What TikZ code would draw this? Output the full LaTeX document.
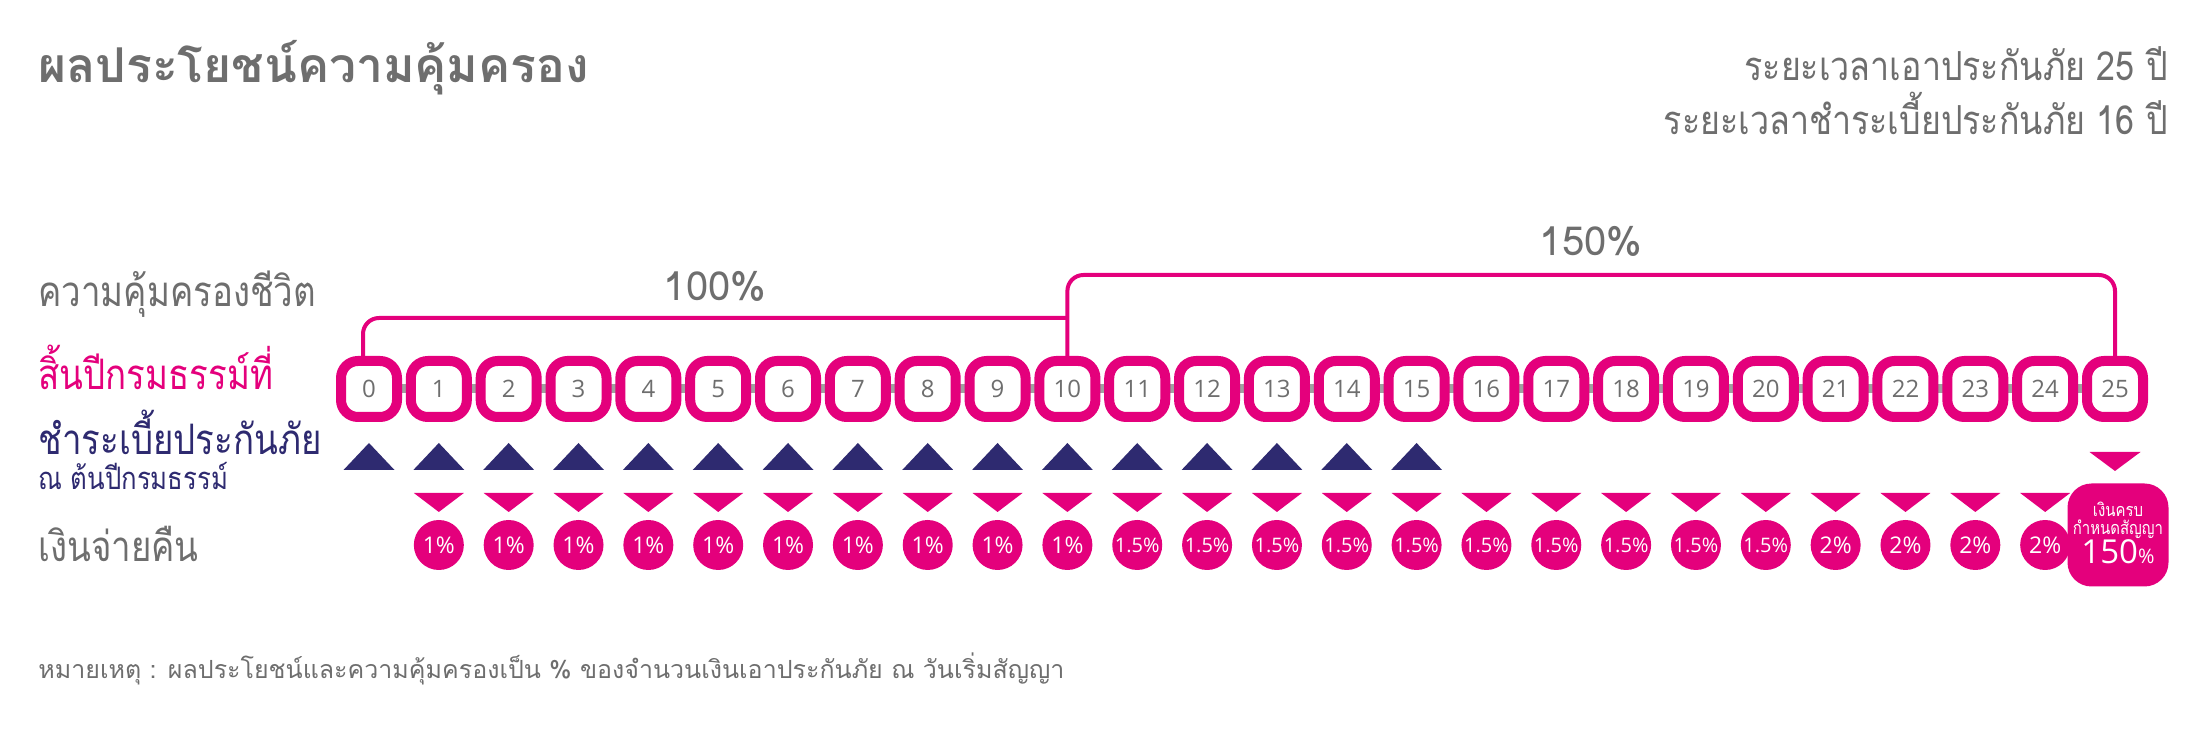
\documentclass[tikz,border=0pt]{standalone}
\usepackage{fontspec}
\setmainfont{Open Sans}
\newfontfamily\thaifont[Script=Thai]{Loma}
\newfontfamily\thainarrow[Script=Thai,FakeStretch=0.83]{Loma}
\newfontfamily\thaihead[Script=Thai,FakeStretch=0.85]{Loma}
\newfontfamily\numfont{Open Sans}
\definecolor{kmagenta}{RGB}{228,0,124}
\definecolor{knavy}{RGB}{46,42,112}
\definecolor{kgrey}{RGB}{110,110,110}
\definecolor{kbar}{RGB}{160,160,160}
\usetikzlibrary{positioning,calc,backgrounds}

\begin{document}
\begin{tikzpicture}[x=0.5pt,y=-0.5pt,
    yearbox/.style={draw=kmagenta, line width=5pt, fill=white, rounded corners=8.5pt, minimum width=28pt, minimum height=28pt, inner sep=0pt, text=kgrey, font=\numfont\fontsize{12}{14}\selectfont},
    paycircle/.style={circle, fill=kmagenta, minimum size=25pt, inner sep=0pt, text=white, font=\numfont\fontsize{11.5}{13}\selectfont},
    rowlabel/.style={anchor=base west, inner sep=0pt, font=\thainarrow\fontsize{21}{25}\selectfont},
    bracket/.style={draw=kmagenta, line width=2pt, rounded corners=8pt},
    pctlabel/.style={anchor=base, inner sep=0pt, text=kgrey, font=\thaifont\fontsize{20}{24}\selectfont}]
  \useasboundingbox (0,0) rectangle (2208,731);
  % Header
  \node[anchor=base west, inner sep=0pt, text=kgrey, font=\thaifont\bfseries\fontsize{24}{28}\selectfont] (title) at (38,83) {ผลประโยชน์ความคุ้มครอง};
  \node[anchor=base east, inner sep=0pt, text=kgrey, font=\thaihead\fontsize{20}{24}\selectfont] (term) at (2168,81) {ระยะเวลาเอาประกันภัย 25 ปี};
  \node[anchor=base east, inner sep=0pt, text=kgrey, font=\thaihead\fontsize{20}{24}\selectfont] (payterm) at (2168,135) {ระยะเวลาชำระเบี้ยประกันภัย 16 ปี};
  % Row labels
  \node[rowlabel, text=kgrey] (lcover) at (38,307) {ความคุ้มครองชีวิต};
  \node[rowlabel, text=kmagenta] (lyear) at (38,390) {สิ้นปีกรมธรรม์ที่};
  \node[rowlabel, text=knavy] (lpremium) at (38,455) {ชำระเบี้ยประกันภัย};
  \node[rowlabel, text=knavy, font=\thainarrow\fontsize{15.5}{18}\selectfont] (lstart) at (38,490) {ณ ต้นปีกรมธรรม์};
  \node[rowlabel, text=kgrey] (lpay) at (38,562) {เงินจ่ายคืน};
  % Policy years
  \foreach \i in {0,...,25}
    \node[yearbox] (y\i) at ({369+69.84*\i},389) {\i};
  \begin{pgfonlayer}{background}
    \draw[kbar, line width=4.5pt] (y0.center) -- (y25.center);
  \end{pgfonlayer}
  % Coverage brackets
  \coordinate (k100) at (1067,318);
  \coordinate (k150) at (1591,275);
  \draw[bracket] ([xshift=-3pt]y0.north) |- (k100);
  \draw[bracket] (y10.north) |- (k150) -| (y25.north);
  \node[pctlabel] (l100) at (715,301) {100\%};
  \node[pctlabel] (l150) at (1591,256) {150\%};
  % Premiums
  \foreach \i in {0,...,15}
    \fill[knavy] ([shift={(-25.5,81)}]y\i.center) -- ([shift={(25.5,81)}]y\i.center) -- ([shift={(0,54)}]y\i.center) -- cycle;
  % Cash back
  \foreach \i in {1,...,24}
    \fill[kmagenta] ([shift={(-25,104)}]y\i.center) -- ([shift={(25,104)}]y\i.center) -- ([shift={(0,123)}]y\i.center) -- cycle;
  \foreach \i in {1,...,10}
    \node[paycircle] (p\i) at ({369+69.84*\i},545) {1\%};
  \foreach \i in {11,...,20}
    \node[paycircle, font=\numfont\fontsize{10}{12}\selectfont] (p\i) at ({369+69.84*\i},545) {1.5\%};
  \foreach \i in {21,...,24}
    \node[paycircle] (p\i) at ({369+69.84*\i},545) {2\%};
  % Maturity
  \fill[kmagenta] ([shift={(-25.5,63)}]y25.center) -- ([shift={(25.5,63)}]y25.center) -- ([shift={(0,82)}]y25.center) -- cycle;
  \node[fill=kmagenta, rounded corners=12pt, minimum width=50.5pt, minimum height=51.5pt] (mature) at (2118,535) {};
  \node[anchor=base, inner sep=0pt, text=white, font=\thainarrow\fontsize{9}{11}\selectfont] (m1) at (2118,517) {เงินครบ};
  \node[anchor=base, inner sep=0pt, text=white, font=\thainarrow\fontsize{9}{11}\selectfont] (m2) at (2118,535) {กำหนดสัญญา};
  \node[anchor=base, inner sep=0pt, text=white, font=\numfont\fontsize{16.5}{18}\selectfont] (m3) at (2118,564) {150{\fontsize{10}{10}\selectfont\%}};
  % Footnote
  \node[anchor=base west, inner sep=0pt, text=kgrey, font=\thaifont\fontsize{12.5}{15}\selectfont] (note) at (38,679) {หมายเหตุ : ผลประโยชน์และความคุ้มครองเป็น \% ของจำนวนเงินเอาประกันภัย ณ วันเริ่มสัญญา};
\end{tikzpicture}
\end{document}
